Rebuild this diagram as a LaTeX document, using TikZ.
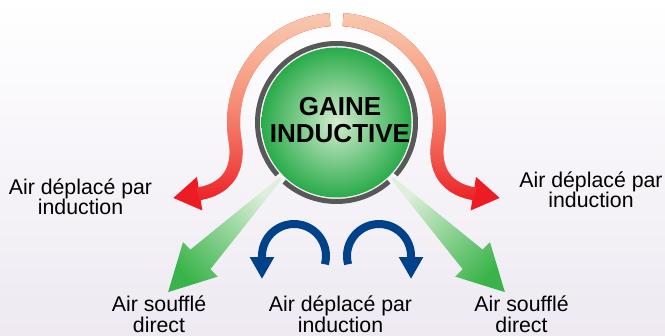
\documentclass[tikz,border=0pt]{standalone}
\usepackage{fontspec}
\setmainfont{Liberation Sans}
\usetikzlibrary{arrows.meta,fadings}

\definecolor{gaineGreen}{RGB}{41,171,74}
\definecolor{gaineLight}{RGB}{212,236,207}
\definecolor{ringGray}{RGB}{88,88,88}
\definecolor{inducRed}{RGB}{237,28,36}
\definecolor{inducOrange}{RGB}{245,112,68}
\definecolor{inducPeach}{RGB}{249,200,176}
\definecolor{inducBlue}{RGB}{0,66,138}
\definecolor{souffleGreen}{RGB}{58,180,74}
\definecolor{soufflePale}{RGB}{222,240,219}
\definecolor{bgLow}{RGB}{238,233,242}
\tikzfading[name=fadedown, top color=transparent!0, bottom color=transparent!100]
\tikzfading[name=fadehalf, top color=transparent!0, middle color=transparent!100, bottom color=transparent!100]

\begin{document}
\begin{tikzpicture}[
  x=1pt, y=1pt,
  lbl/.style={font=\fontsize{21.3}{20.5}\selectfont, align=center, inner sep=0pt, anchor=south},
  ring/.style={draw=ringGray, line width=5pt},
  redband/.style={draw=inducRed, line width=13pt, -{Triangle[length=27pt,width=32pt]}},
  redfade/.style={line width=13pt, shorten >=25pt},
  blueturn/.style={draw=inducBlue, line width=8pt, -{Triangle[length=22pt,width=23pt]}}
]
\useasboundingbox (0,0) rectangle (665,336);
\fill[top color=white, bottom color=bgLow] (0,0) rectangle (665,336);

\node[circle, minimum size=150pt, inner sep=0pt, inner color=gaineLight, outer color=gaineGreen] (gaine) at (336.5,213.5) {};
\draw[ring] (gaine.center) ++(-41.5:79) arc[start angle=-41.5, end angle=221.5, radius=79];
\draw[ring] (gaine.center) ++(-131.5:79) arc[start angle=-131.5, end angle=-48.5, radius=79];
\node[font=\bfseries\fontsize{26}{27}\selectfont, align=center, inner sep=0pt, anchor=south] (titre) at (340,193) {GAINE\\INDUCTIVE};

\begin{scope}[shift={(gaine.center)}]
  \draw[redband] (-6.65,102.8) arc[start angle=93.7, end angle=190, radius=103] .. controls (-97.96,-37.59) and (-101.5,-65.5) .. (-163.5,-75.5);
  \draw[redfade, draw=inducOrange, path fading=fadedown] (-6.65,102.8) arc[start angle=93.7, end angle=190, radius=103] .. controls (-97.96,-37.59) and (-101.5,-65.5) .. (-163.5,-75.5);
  \draw[redfade, draw=inducPeach, path fading=fadehalf] (-6.65,102.8) arc[start angle=93.7, end angle=190, radius=103] .. controls (-97.96,-37.59) and (-101.5,-65.5) .. (-163.5,-75.5);
\end{scope}
\begin{scope}[shift={(gaine.center)}, xscale=-1]
  \draw[redband] (-6.65,102.8) arc[start angle=93.7, end angle=190, radius=103] .. controls (-97.96,-37.59) and (-101.5,-65.5) .. (-163.5,-75.5);
  \draw[redfade, draw=inducOrange, path fading=fadedown] (-6.65,102.8) arc[start angle=93.7, end angle=190, radius=103] .. controls (-97.96,-37.59) and (-101.5,-65.5) .. (-163.5,-75.5);
  \draw[redfade, draw=inducPeach, path fading=fadehalf] (-6.65,102.8) arc[start angle=93.7, end angle=190, radius=103] .. controls (-97.96,-37.59) and (-101.5,-65.5) .. (-163.5,-75.5);
\end{scope}

\shade[top color=soufflePale, bottom color=souffleGreen, shading angle=-45]
  (281.7,156.5) -- (210.35,66.75) -- (217.8,59.4) -- (168.1,43.9) -- (183.0,93.8) -- (190.45,86.45) -- (279.5,158.7) -- cycle;
\shade[top color=soufflePale, bottom color=souffleGreen, shading angle=45]
  (391.3,156.5) -- (462.65,66.75) -- (455.2,59.4) -- (504.9,43.9) -- (490.0,93.8) -- (482.55,86.45) -- (393.5,158.7) -- cycle;

\draw[blueturn] (324.9,71.7) arc[start angle=-15, end angle=180, radius=32] -- ++(0,-23);
\draw[blueturn] (348.1,71.7) arc[start angle=195, end angle=0, radius=32] -- ++(0,-23);

\node[lbl] (gauche) at (80.5,121) {Air déplacé par\\induction};
\node[lbl] (droite) at (591,128) {Air déplacé par\\induction};
\node[lbl] (souffleG) at (159,3.5) {Air soufflé\\direct};
\node[lbl] (inducB) at (340.5,3.5) {Air déplacé par\\induction};
\node[lbl] (souffleD) at (521.5,3.5) {Air soufflé\\direct};

\end{tikzpicture}
\end{document}
